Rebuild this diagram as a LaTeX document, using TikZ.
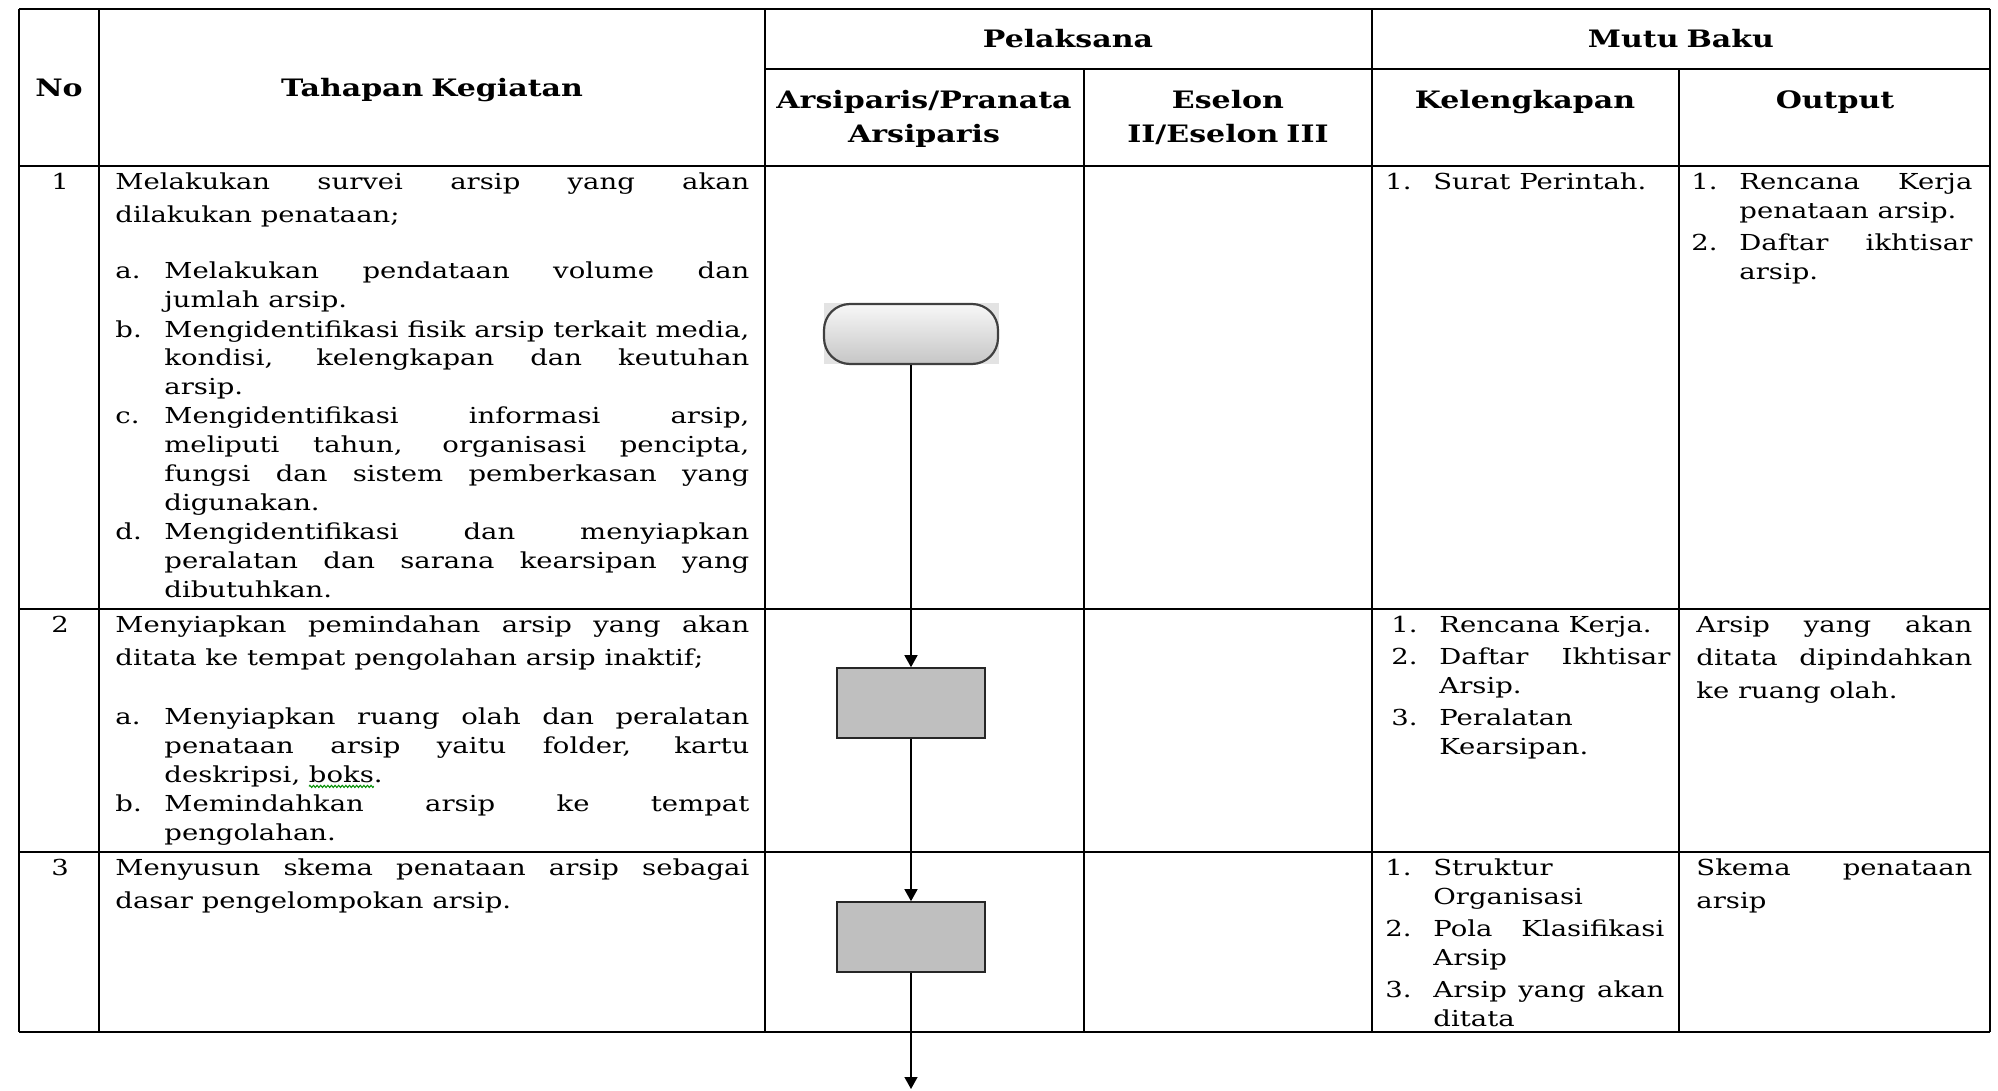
\documentclass[tikz,border=0pt]{standalone}
\usepackage{fontspec}
\setmainfont{DejaVu Serif}[FakeStretch=1.25]
\usetikzlibrary{arrows.meta,positioning,decorations.pathmorphing}

\newlength\butirind
\setlength\butirind{24.5pt}
\newlength\butirsela
\setlength\butirsela{0pt}
\newif\ifbutirawal
\newcommand\butir[1]{\ifbutirawal\global\butirawalfalse\else\par\vskip\butirsela\fi\noindent\hangindent=\butirind\hangafter=1\makebox[\butirind][l]{#1}\ignorespaces}
\newlength\salahlebar
\newcommand\salah[1]{\settowidth\salahlebar{#1}#1\tikz[overlay]\draw[green!55!black, line width=0.5pt, decorate, decoration={zigzag,segment length=1.8pt,amplitude=0.55pt}] (-\salahlebar,-2.2pt) -- (0pt,-2.2pt);}

\tikzset{
  garis/.style={line width=1.1pt},
  judul/.style={font=\bfseries\fontsize{12}{17}\selectfont, anchor=base, inner sep=0pt, text width=200pt, align=center},
  nomor/.style={font=\fontsize{11}{14.5}\selectfont, anchor=base, inner sep=0pt},
  teks/.style={font=\fontsize{11}{16.5}\selectfont, anchor=base west, inner sep=0pt, text width=#1, align=justify},
  daftar/.style={font=\fontsize{11}{14.5}\selectfont\global\butirawaltrue, anchor=base west, inner sep=0pt, text width=#1, align=justify},
  mutu/.style={font=\fontsize{11}{14.5}\selectfont\global\butirawaltrue\setlength\butirind{24pt}\setlength\butirsela{1.5pt}, anchor=base west, inner sep=0pt, text width=#1, align=justify},
  mulai/.style={draw=black!75, line width=1.1pt, rounded corners=13pt, top color=gray!6, bottom color=gray!45, minimum width=87pt, minimum height=30pt},
  proses/.style={draw=black!85, line width=0.8pt, fill=gray!50, minimum width=74pt, minimum height=35pt},
  panah/.style={-{Triangle[width=6.5pt,length=6pt]}, line width=0.7pt},
}

\begin{document}
\begin{tikzpicture}[x=0.5pt,y=-0.5pt]
\useasboundingbox (0,0) rectangle (1998,1091);

\draw[garis] (19,9) -- (1990,9);
\draw[garis] (765,69) -- (1990,69);
\foreach \y in {166,609,852,1032}
\draw[garis] (19,\y) -- (1990,\y);
\foreach \x in {19,99,765,1372,1990}
\draw[garis] (\x,9) -- (\x,1032);
\foreach \x in {1084,1679}
\draw[garis] (\x,69) -- (\x,1032);

\node[judul] (hno) at (59,97) {No};
\node[judul] (htahap) at (432,97) {Tahapan Kegiatan};
\node[judul] (hpel) at (1068,48) {Pelaksana};
\node[judul] (hmutu) at (1681,48) {Mutu Baku};
\node[judul] (harsip) at (924,109) {Arsiparis/Pranata\\Arsiparis};
\node[judul] (hesel) at (1228,109) {Eselon\\II/Eselon III};
\node[judul] (hkel) at (1525,109) {Kelengkapan};
\node[judul] (hout) at (1835,109) {Output};

\foreach \n/\y in {1/190,2/632,3/875}
\node[nomor] (no\n) at (60,\y) {\n};

\node[teks=317pt] (t1) at (115,190) {Melakukan survei arsip yang akan\linebreak dilakukan penataan;};
\node[daftar=317pt] (t1a) at (115,279) {\butir{a.}Melakukan pendataan volume dan\linebreak jumlah arsip.
\butir{b.}Mengidentifikasi fisik arsip terkait media,\linebreak kondisi, kelengkapan dan keutuhan\linebreak arsip.
\butir{c.}Mengidentifikasi informasi arsip,\linebreak meliputi tahun, organisasi pencipta,\linebreak fungsi dan sistem pemberkasan yang\linebreak digunakan.
\butir{d.}Mengidentifikasi dan menyiapkan\linebreak peralatan dan sarana kearsipan yang\linebreak dibutuhkan.\par};

\node[teks=317pt] (t2) at (115,632) {Menyiapkan pemindahan arsip yang akan\linebreak ditata ke tempat pengolahan arsip inaktif;};
\node[daftar=317pt] (t2a) at (115,724) {\butir{a.}Menyiapkan ruang olah dan peralatan\linebreak penataan arsip yaitu folder, kartu\linebreak deskripsi, \salah{boks}.
\butir{b.}Memindahkan arsip ke tempat\linebreak pengolahan.\par};

\node[teks=317pt] (t3) at (115,875) {Menyusun skema penataan arsip sebagai\linebreak dasar pengelompokan arsip.};

\node[mutu=139.5pt] (k1) at (1385,190) {\butir{1.}Surat Perintah.\par};
\node[mutu=139.5pt] (k2) at (1391,632) {\butir{1.}Rencana Kerja.
\butir{2.}Daftar Ikhtisar\linebreak Arsip.
\butir{3.}Peralatan\newline Kearsipan.\par};
\node[mutu=139.5pt] (k3) at (1385,875) {\butir{1.}Struktur\newline Organisasi
\butir{2.}Pola Klasifikasi\linebreak Arsip
\butir{3.}Arsip yang akan\linebreak ditata\par};

\node[mutu=140.5pt] (o1) at (1691,190) {\butir{1.}Rencana Kerja\linebreak penataan arsip.
\butir{2.}Daftar ikhtisar\linebreak arsip.\par};
\node[teks=138pt] (o2) at (1696,632) {Arsip yang akan\linebreak ditata dipindahkan\linebreak ke ruang olah.};
\node[teks=138pt] (o3) at (1696,875) {Skema penataan\linebreak arsip};

\fill[gray!22] (824,303) rectangle (999,364);
\node[mulai] (s1) at (911,334) {};
\node[proses] (p2) at (911,703) {};
\node[proses] (p3) at (911,937) {};
\coordinate (akhir) at (911,1089);

\draw[panah] (s1) -- (p2);
\draw[panah] (p2) -- (p3);
\draw[panah] (p3) -- (akhir);
\end{tikzpicture}
\end{document}
